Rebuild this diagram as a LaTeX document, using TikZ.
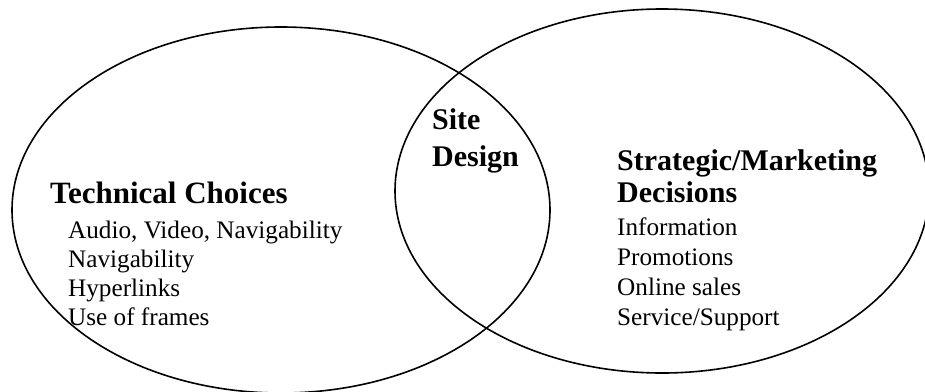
\documentclass[tikz,border=0pt]{standalone}
\usepackage{fontspec}
\setmainfont{Liberation Serif}
\usetikzlibrary{shapes.geometric,positioning}
\tikzset{
  SET/.style={ellipse,draw,line width=1.6pt,inner sep=0pt},
  HD/.style={inner sep=0pt,anchor=base west,align=left,
             font=\fontsize{30}{32}\selectfont\bfseries},
  LI/.style={inner sep=0pt,anchor=base west,align=left,
             font=\fontsize{25.2}{29}\selectfont}
}
\begin{document}
\begin{tikzpicture}[x=1pt,y=-1pt]
  \useasboundingbox (0,0) rectangle (925,391);
  % the two overlapping sets
  \node[SET,minimum width=538pt,minimum height=366pt] (tech) at (281,210) {};
  \node[SET,minimum width=534pt,minimum height=364pt] (strat) at (662,191) {};

  % texts sit on the baseline of their last line
  \node[HD,font=\fontsize{31}{32}\selectfont\bfseries] (techhead) at (50,203) {Technical Choices};
  \node[LI] (techlist) at (68,325) {Audio, Video, Navigability\\Navigability\\Hyperlinks\\Use of frames};

  \node[HD,font=\fontsize{30}{37}\selectfont\bfseries] (site) at (432,166) {Site\\Design};

  \node[HD] (strathead) at (617,202) {Strategic/Marketing\\Decisions};
  \node[LI,font=\fontsize{25.2}{30}\selectfont] (stratlist) at (617,325) {Information\\Promotions\\Online sales\\Service/Support};
\end{tikzpicture}
\end{document}
